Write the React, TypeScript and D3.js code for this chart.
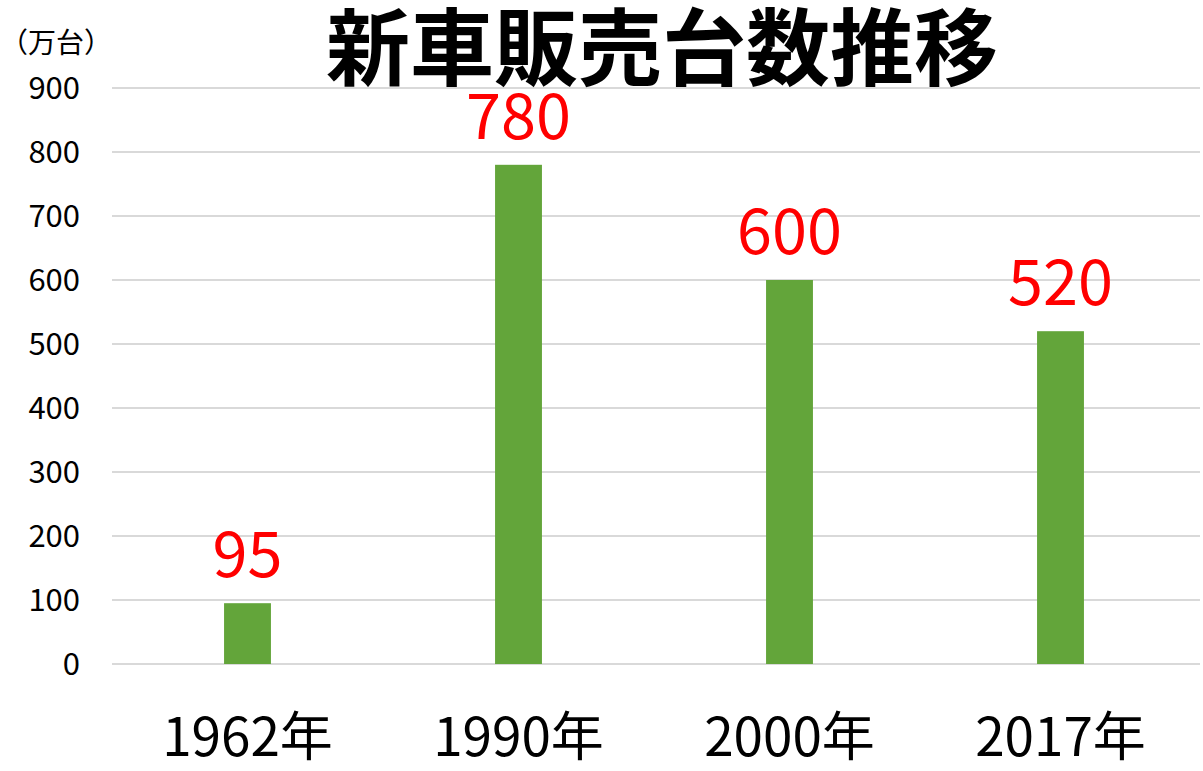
import * as d3 from "d3";

const years: string[] = ["1962年", "1990年", "2000年", "2017年"];
const sales: number[] = [95, 780, 600, 520];
const yTicks: number[] = [0, 100, 200, 300, 400, 500, 600, 700, 800, 900];

const FONT = "'Noto Sans CJK JP', 'Noto Sans', sans-serif";

export default function App() {
  const w = 1203;
  const h = 771;
  const left = 112;
  const right = 1196;
  const bottom = 664;
  const top = 88;

  // scales
  const x = d3.scaleBand<string>().domain(years).range([left, right]).paddingInner(0.827).paddingOuter(0.4135);
  const y = d3.scaleLinear().domain([0, 900]).range([bottom, top]);

  return (
    <svg
      width={w}
      height={h}
      style={{ position: "absolute", left: 0, top: 0, background: "#ffffff" }}
      fontFamily={FONT}
    >
      {/* unit label */}
      <text x={0} y={53} fontSize={28} fill="#000">
        （万台）
      </text>

      {/* gridlines + y ticks */}
      {yTicks.map((t) => (
        <g key={t}>
          <line x1={left} x2={1200} y1={y(t)} y2={y(t)} stroke="#d9d9d9" strokeWidth={2} />
          <text x={80} y={y(t)} dy="0.35em" textAnchor="end" fontSize={31} fill="#000">
            {t}
          </text>
        </g>
      ))}

      {/* title */}
      <text x={662} y={79} textAnchor="middle" fontSize={84} fontWeight={700} fill="#000">
        新車販売台数推移
      </text>

      {/* bars */}
      {years.map((yr, i) => (
        <rect
          key={yr}
          x={x(yr)}
          y={y(sales[i])}
          width={x.bandwidth()}
          height={bottom - y(sales[i])}
          fill="#63a53a"
        />
      ))}

      {/* value labels */}
      {years.map((yr, i) => (
        <text
          key={"v" + yr}
          x={(x(yr) as number) + x.bandwidth() / 2}
          y={y(sales[i]) - 26}
          textAnchor="middle"
          fontSize={63}
          fill="#ff0000"
        >
          {sales[i]}
        </text>
      ))}

      {/* category labels */}
      {years.map((yr) => (
        <text
          key={"c" + yr}
          x={(x(yr) as number) + x.bandwidth() / 2}
          y={756}
          textAnchor="middle"
          fontSize={53}
          fill="#000"
        >
          {yr}
        </text>
      ))}
    </svg>
  );
}
